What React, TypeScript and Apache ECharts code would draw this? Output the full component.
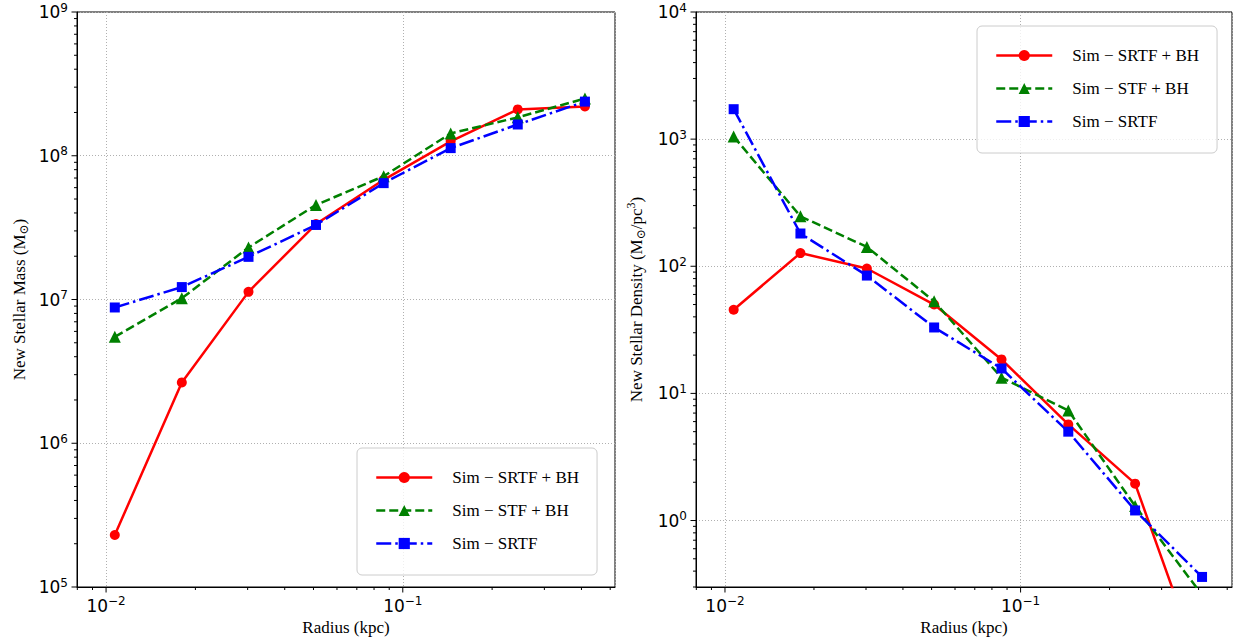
import React, { useEffect, useRef } from 'react';
import * as echarts from 'echarts';

// ---- data ----
const radiusKpc = [0.0107, 0.018, 0.0302, 0.051, 0.0862, 0.145, 0.244, 0.411];

const massSRTFBH = [2.3e5, 2.65e6, 1.13e7, 3.35e7, 6.8e7, 1.26e8, 2.1e8, 2.2e8];
const massSTFBH = [5.5e6, 1.02e7, 2.3e7, 4.55e7, 7.2e7, 1.43e8, 1.85e8, 2.5e8];
const massSRTF = [8.8e6, 1.22e7, 1.98e7, 3.3e7, 6.45e7, 1.13e8, 1.65e8, 2.38e8];

const densSRTFBH = [45.5, 127, 96, 50, 18.5, 5.7, 1.95, 0.065];
const densSTFBH = [1050, 247, 142, 53, 13.3, 7.35, 1.3, 0.26];
const densSRTF = [1720, 181, 84.5, 33, 15.7, 5.0, 1.2, 0.36];

const seriesNames = ['Sim − SRTF + BH', 'Sim − STF + BH', 'Sim − SRTF'];
const seriesColors = ['#ff0000', '#008000', '#0000ff'];
const seriesSymbols = ['circle', 'triangle', 'rect'];

const X_RANGE = [0.00798, 0.519];
const MASS_RANGE = [1e5, 1e9];
const DENS_RANGE = [0.3, 1e4];

const xName = 'Radius (kpc)';
const massName = 'New Stellar Mass (M{sub|⊙})';
const densName = 'New Stellar Density (M{sub|⊙}/pc{sup|3})';

// ---- helpers ----
const SERIF = '"Liberation Serif", "DejaVu Serif", serif';
const SANS = '"DejaVu Sans", sans-serif';

function logTickValues(min: number, max: number) {
  const major: number[] = [];
  const minor: number[] = [];
  for (let e = Math.floor(Math.log10(min)); e <= Math.ceil(Math.log10(max)); e++) {
    for (let k = 1; k <= 9; k++) {
      const v = k * Math.pow(10, e);
      if (v >= min * (1 - 1e-9) && v <= max * (1 + 1e-9)) {
        (k === 1 ? major : minor).push(v);
      }
    }
  }
  return { major, minor };
}

function powLabel(v: number) {
  const l = Math.log10(v);
  const e = Math.round(l);
  if (Math.abs(l - e) > 1e-6) return '';
  const s = e < 0 ? '−' + -e : String(e);
  return `{b|10}{s|${s}}`;
}

const tickRich = {
  b: { fontSize: 17, fontFamily: SANS, color: '#000', lineHeight: 21 },
  s: { fontSize: 12, fontFamily: SANS, color: '#000', lineHeight: 12, verticalAlign: 'top' },
};

const nameRich = {
  sub: { fontSize: 12, fontFamily: SERIF, color: '#000', lineHeight: 12, verticalAlign: 'bottom' },
  sup: { fontSize: 12, fontFamily: SERIF, color: '#000', lineHeight: 12, verticalAlign: 'top' },
};

function tickSeries(gi: number, dir: 'x' | 'y', values: number[], len: number, xMin: number, yMin: number) {
  return {
    type: 'custom',
    name: `ticks-${gi}-${dir}-${len}`,
    xAxisIndex: gi,
    yAxisIndex: gi,
    silent: true,
    z: 6,
    data: values.map((v) => (dir === 'x' ? [v, yMin] : [xMin, v])),
    renderItem: (params: any, api: any) => {
      const cs = params.coordSys;
      const p = api.coord([api.value(0), api.value(1)]);
      if (dir === 'x') {
        const y0 = cs.y + cs.height;
        return { type: 'line', shape: { x1: p[0], y1: y0, x2: p[0], y2: y0 + len }, style: { stroke: '#000', lineWidth: 1 } };
      }
      const x0 = cs.x;
      return { type: 'line', shape: { x1: x0 - len, y1: p[1], x2: x0, y2: p[1] }, style: { stroke: '#000', lineWidth: 1 } };
    },
  };
}

function lineSeries(gi: number, idx: number, values: number[]) {
  const dash: any = idx === 0 ? 'solid' : idx === 1 ? [9, 4] : [15, 4, 2.5, 4];
  return {
    type: 'line',
    name: seriesNames[idx],
    xAxisIndex: gi,
    yAxisIndex: gi,
    data: radiusKpc.map((x, i) => [x, values[i]]),
    symbol: seriesSymbols[idx],
    symbolSize: idx === 1 ? 12 : 10,
    showAllSymbol: true,
    clip: true,
    lineStyle: { color: seriesColors[idx], width: 2.5, type: dash },
    itemStyle: { color: seriesColors[idx] },
    z: 3,
  };
}

function xAxis(gi: number) {
  return {
    type: 'log',
    gridIndex: gi,
    min: X_RANGE[0],
    max: X_RANGE[1],
    logBase: 10,
    name: xName,
    nameLocation: 'middle',
    nameGap: 31,
    nameTextStyle: { fontFamily: SERIF, fontSize: 17, color: '#000' },
    axisLine: { show: true, lineStyle: { color: '#000', width: 1 } },
    axisTick: { show: false },
    axisLabel: { formatter: powLabel, rich: tickRich, margin: 8, showMinLabel: true, showMaxLabel: true },
    splitLine: { show: true, lineStyle: { color: '#b0b0b0', type: [1, 2], width: 1 } },
  };
}

function yAxis(gi: number, range: number[], name: string, gap: number) {
  return {
    type: 'log',
    gridIndex: gi,
    min: range[0],
    max: range[1],
    logBase: 10,
    name,
    nameLocation: 'middle',
    nameRotate: 90,
    nameGap: gap,
    nameTextStyle: { fontFamily: SERIF, fontSize: 17, color: '#000', lineHeight: 22, rich: nameRich },
    axisLine: { show: true, lineStyle: { color: '#000', width: 1 } },
    axisTick: { show: false },
    axisLabel: { formatter: powLabel, rich: tickRich, margin: 9, showMinLabel: true, showMaxLabel: true },
    splitLine: { show: true, lineStyle: { color: '#b0b0b0', type: [1, 2], width: 1 } },
  };
}

function legend(left: number, top: number) {
  return {
    data: seriesNames,
    left,
    top,
    orient: 'vertical',
    selectedMode: false,
    itemWidth: 56,
    itemHeight: 14,
    itemGap: 16,
    padding: [21, 18, 23, 18],
    backgroundColor: 'rgba(255,255,255,0.8)',
    borderColor: '#cccccc',
    borderWidth: 1,
    borderRadius: 5,
    lineStyle: { width: 2.5 },
    textStyle: { fontFamily: SERIF, fontSize: 17, color: '#000', padding: [0, 0, 0, 15] },
  };
}

export default function App() {
  const ref = useRef<HTMLDivElement>(null);
  useEffect(() => {
    if (!ref.current) return;
    const chart = echarts.init(ref.current, undefined, { renderer: 'svg' });
    const xt = logTickValues(X_RANGE[0], X_RANGE[1]);
    const mt = logTickValues(MASS_RANGE[0], MASS_RANGE[1]);
    const dt = logTickValues(DENS_RANGE[0], DENS_RANGE[1]);
    const option: any = {
      animation: false,
      backgroundColor: '#ffffff',
      grid: [
        { left: 77, top: 12, width: 538, height: 575, show: true, borderColor: '#000', borderWidth: 1, backgroundColor: 'transparent' },
        { left: 696, top: 12, width: 537, height: 575, show: true, borderColor: '#000', borderWidth: 1, backgroundColor: 'transparent' },
      ],
      xAxis: [xAxis(0), xAxis(1)],
      yAxis: [yAxis(0, MASS_RANGE, massName, 47), yAxis(1, DENS_RANGE, densName, 49)],
      legend: [legend(357, 448), legend(977, 26)],
      series: [
        lineSeries(0, 0, massSRTFBH),
        lineSeries(0, 1, massSTFBH),
        lineSeries(0, 2, massSRTF),
        lineSeries(1, 0, densSRTFBH),
        lineSeries(1, 1, densSTFBH),
        lineSeries(1, 2, densSRTF),
        tickSeries(0, 'x', xt.major, 5.5, X_RANGE[0], MASS_RANGE[0]),
        tickSeries(0, 'x', xt.minor, 3, X_RANGE[0], MASS_RANGE[0]),
        tickSeries(0, 'y', mt.major, 5.5, X_RANGE[0], MASS_RANGE[0]),
        tickSeries(0, 'y', mt.minor, 3, X_RANGE[0], MASS_RANGE[0]),
        tickSeries(1, 'x', xt.major, 5.5, X_RANGE[0], DENS_RANGE[0]),
        tickSeries(1, 'x', xt.minor, 3, X_RANGE[0], DENS_RANGE[0]),
        tickSeries(1, 'y', dt.major, 5.5, X_RANGE[0], DENS_RANGE[0]),
        tickSeries(1, 'y', dt.minor, 3, X_RANGE[0], DENS_RANGE[0]),
      ],
    };
    chart.setOption(option);
    return () => chart.dispose();
  }, []);
  return <div ref={ref} style={{ position: 'fixed', left: 0, top: 0, width: 1235, height: 642 }} />;
}
